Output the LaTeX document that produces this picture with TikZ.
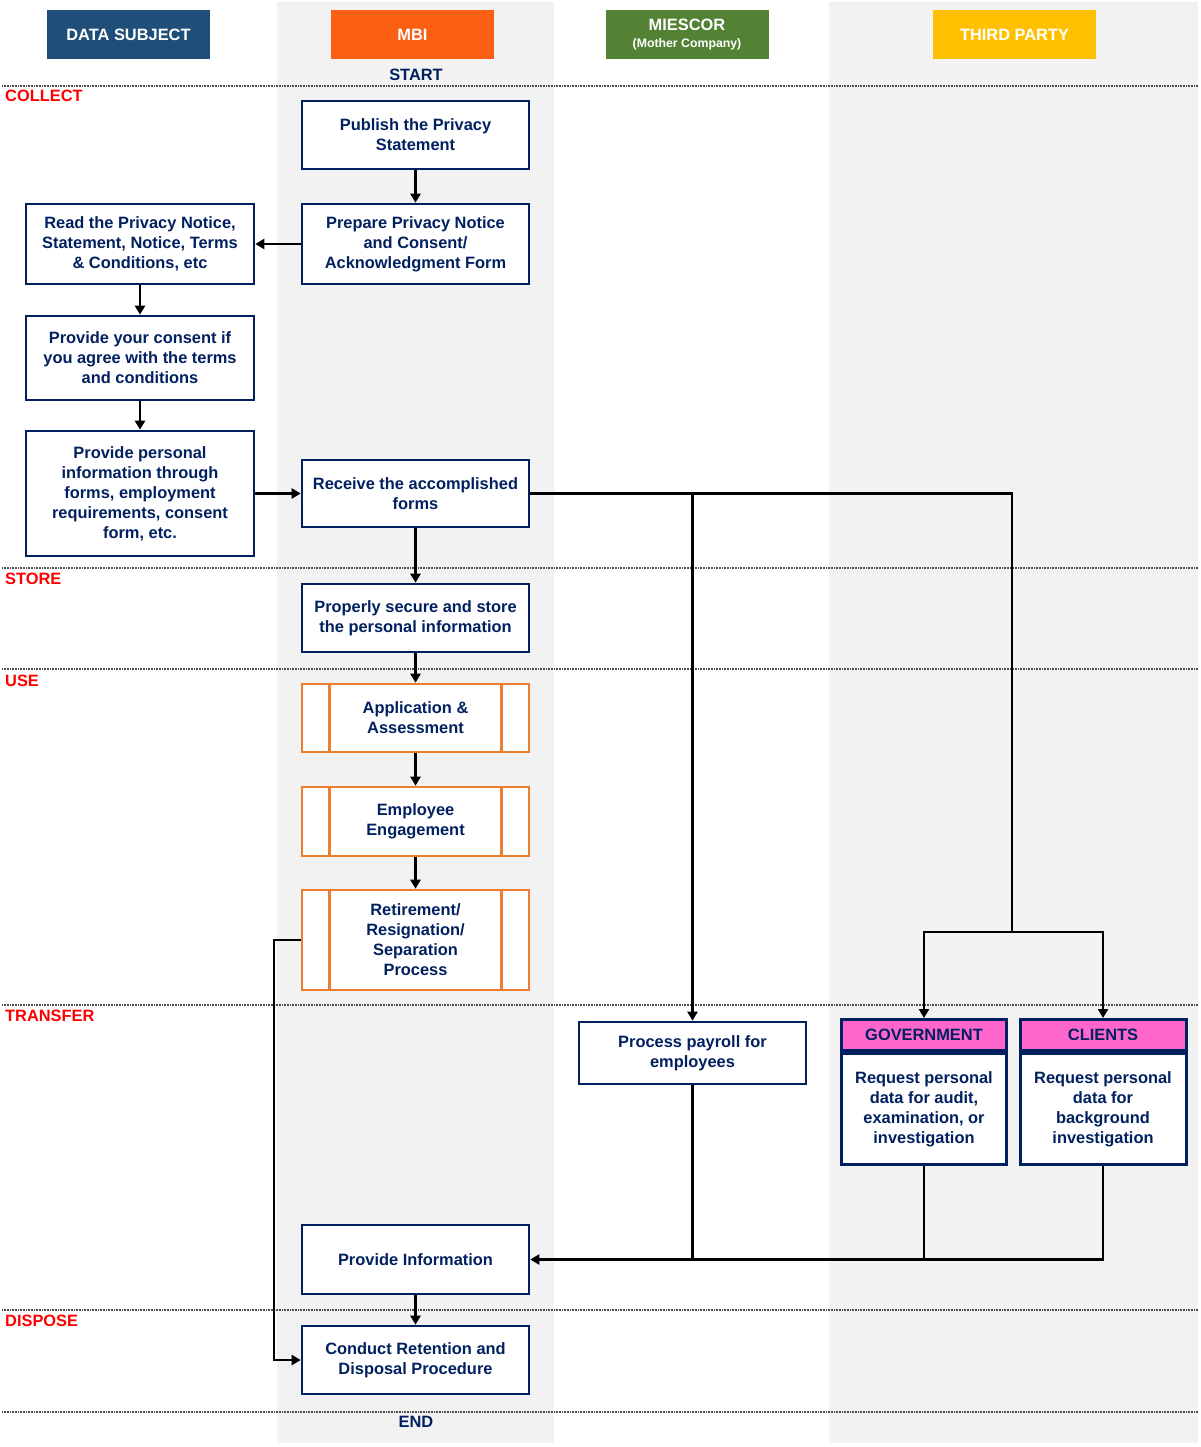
\documentclass[tikz,border=0pt]{standalone}
\usepackage{fontspec}
\setmainfont{Liberation Sans}
\usetikzlibrary{arrows.meta, positioning}
\definecolor{navy}{HTML}{002060}
\definecolor{subjblue}{HTML}{1F4E79}
\definecolor{mbiorange}{HTML}{FA5F14}
\definecolor{miegreen}{HTML}{548235}
\definecolor{thirdgold}{HTML}{FFC000}
\definecolor{laneg}{HTML}{F2F2F2}
\definecolor{suborange}{HTML}{ED7D31}
\definecolor{govpink}{HTML}{FF66CC}

\begin{document}
\begin{tikzpicture}[x=1pt,y=-1pt,
  txt/.style={font=\fontsize{16.4}{20}\selectfont\bfseries},
  head/.style={txt, text=white, minimum width=163pt, minimum height=49pt, inner sep=0pt, align=center},
  phase/.style={txt, text=red, anchor=west, inner sep=0pt},
  box/.style={txt, draw=navy, line width=2.6pt, fill=white, text=navy, minimum width=227pt, minimum height=68pt, align=center, inner sep=2pt},
  subbox/.style={box, draw=suborange},
  tag/.style={txt, draw=navy, line width=3pt, text=navy, minimum width=165pt, align=center, inner sep=2pt},
  arr/.style={line width=2.4pt, -{Triangle[length=9pt,width=10pt]}},
  ln/.style={line width=2.4pt},
  dots/.style={line width=1.2pt, gray!60!black, dash pattern=on 0.8pt off 0.8pt}]
\useasboundingbox (0,0) rectangle (1200,1447);

% lanes
\fill[laneg] (277,2) rectangle (554,1443);
\fill[laneg] (829,2) rectangle (1198,1443);
\foreach \yy in {86,568,669,1005,1310,1412}
  \draw[dots] (2,\yy) -- (1198,\yy);

% lane headers
\node[head, fill=subjblue] (hsubj) at (128.5,34.5) {DATA SUBJECT};
\node[head, fill=mbiorange] (hmbi) at (412.5,34.5) {MBI};
\node[head, fill=miegreen, align=center] (hmie) at (687,34.5) {MIESCOR\\[-3pt]{\fontsize{12.3}{14}\selectfont(Mother Company)}};
\node[head, fill=thirdgold] (hthird) at (1014.5,34.5) {THIRD PARTY};

% phases
\node[phase] (pcol) at (5,96) {COLLECT};
\node[phase] (psto) at (5,579) {STORE};
\node[phase] (puse) at (5,681) {USE};
\node[phase] (ptra) at (5,1016) {TRANSFER};
\node[phase] (pdis) at (5,1321) {DISPOSE};

\node[txt, text=navy] (start) at (416,75) {START};
\node[txt, text=navy] (end) at (416,1422) {END};

% collect
\node[box] (pub) at (415.5,135) {Publish the Privacy\\Statement};
\node[box, minimum height=80pt] (prep) at (415.5,244) {Prepare Privacy Notice\\and Consent/\\Acknowledgment Form};
\node[box, minimum width=228pt, minimum height=80pt] (read) at (140,244) {Read the Privacy Notice,\\Statement, Notice, Terms\\\& Conditions, etc};
\node[box, minimum width=228pt, minimum height=84pt] (cons) at (140,358) {Provide your consent if\\you agree with the terms\\and conditions};
\node[box, minimum width=228pt, minimum height=125pt] (info) at (140,493.5) {Provide personal\\information through\\forms, employment\\requirements, consent\\form, etc.};
\node[box, minimum height=67pt] (recv) at (415.5,493.5) {Receive the accomplished\\forms};

% store
\node[box] (store) at (415.5,618) {Properly secure and store\\the personal information};

% use
\node[subbox] (app) at (415.5,718) {Application \&\\Assessment};
\node[subbox, minimum height=69pt] (emp) at (415.5,821.5) {Employee\\Engagement};
\node[subbox, minimum height=100pt] (ret) at (415.5,940) {Retirement/\\Resignation/\\Separation\\Process};
\foreach \n in {app,emp,ret} {
  \draw[suborange, line width=2.6pt] ([xshift=29pt]\n.north west) -- ([xshift=29pt]\n.south west);
  \draw[suborange, line width=2.6pt] ([xshift=-29pt]\n.north east) -- ([xshift=-29pt]\n.south east);
}

% transfer
\node[box, minimum height=62pt] (pay) at (692.5,1053) {Process payroll for\\employees};
\node[tag, fill=govpink, minimum height=31pt] (gov) at (924,1035) {GOVERNMENT};
\node[tag, fill=white, minimum height=111pt, below=0pt of gov] (govb) {Request personal\\data for audit,\\examination, or\\investigation};
\node[tag, fill=govpink, minimum width=166pt, minimum height=31pt] (cli) at (1103,1035) {CLIENTS};
\node[tag, fill=white, minimum width=166pt, minimum height=111pt, below=0pt of cli] (clib) {Request personal\\data for\\background\\investigation};
\node[box, minimum height=69pt] (prov) at (415.5,1259.5) {Provide Information};

% dispose
\node[box] (disp) at (415.5,1360) {Conduct Retention and\\Disposal Procedure};

% connectors
\coordinate (j1) at (692.5,493.5);
\coordinate (j2) at (1012,493.5);
\coordinate (j3) at (1012,932);
\draw[arr] (pub) -- (prep);
\draw[arr] (prep) -- (read);
\draw[arr] (read) -- (cons);
\draw[arr] (cons) -- (info);
\draw[arr] (info) -- (recv);
\draw[arr] (recv) -- (store);
\draw[ln] (recv.east) -- (j2) -- (j3);
\draw[arr] (j1) -- (pay);
\draw[arr] (j3) -| (gov);
\draw[arr] (j3) -| (cli);
\draw[arr] (store) -- (app);
\draw[arr] (app) -- (emp);
\draw[arr] (emp) -- (ret);
\draw[arr] (ret.west) -- ([xshift=-27pt]ret.west) |- (disp.west);
\draw[ln] (clib.south) |- (pay.south |- prov.east);
\draw[ln] (govb.south) -- (govb.south |- prov.east);
\draw[arr] (pay.south) |- (prov.east);
\draw[arr] (prov) -- (disp);
\end{tikzpicture}
\end{document}
